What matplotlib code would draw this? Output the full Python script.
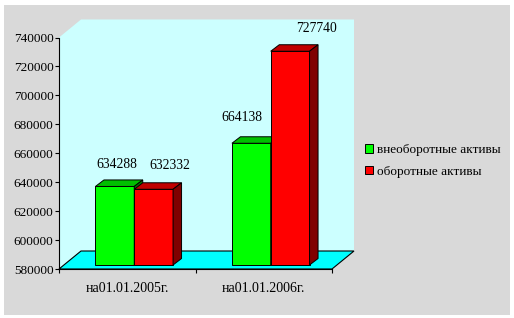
import matplotlib
matplotlib.use('Agg')
import matplotlib.pyplot as plt
from matplotlib.patches import Polygon, Rectangle, Patch

plt.rcParams['font.family'] = ['Liberation Serif', 'DejaVu Serif']
plt.rcParams['font.size'] = 9.5

categories = ['на01.01.2005г.', 'на01.01.2006г.']
series_names = ['внеоборотные активы', 'оборотные активы']
vneoborot = [634288, 664138]
oborot = [632332, 727740]
y_ticks = list(range(580000, 740001, 20000))

# colours: front, top, side
green = ('#00ff00', '#00c000', '#008000')
red = ('#ff0000', '#c00000', '#800000')

W, H = 514, 318
fig = plt.figure(figsize=(W / 100, H / 100), dpi=100)
fig.patches.append(Rectangle((4 / W, 3 / H), 506 / W, 310 / H, transform=fig.transFigure,
                             facecolor='#d9d9d9', edgecolor='none', zorder=-5))

ax = fig.add_axes([59 / W, (H - 269) / H, 273 / W, 231.5 / H])
ymin, ymax = y_ticks[0], y_ticks[-1]
ax.set_xlim(0, len(categories))
ax.set_ylim(ymin, ymax)
ax.patch.set_visible(False)

# pixel -> data units
px_x = len(categories) / 273
px_y = (ymax - ymin) / 231.5

# back wall + floor
wx, wy = 22 * px_x, 18 * px_y
xr = len(categories)
ax.add_patch(Polygon([(0, ymin), (0, ymax), (wx, ymax + wy), (xr + wx, ymax + wy), (xr + wx, ymin + wy)],
                     closed=True, facecolor='#ccffff', edgecolor='none', clip_on=False, zorder=1))
ax.add_patch(Polygon([(0, ymin), (wx, ymin + wy), (xr + wx, ymin + wy), (xr, ymin)],
                     closed=True, facecolor='#00ffff', edgecolor='black', lw=0.8, clip_on=False, zorder=2))

# bars
bw = 38.8 * px_x
fx, fy = 7 * px_x, 4 * px_y         # front face shift
dx, dy = 8.5 * px_x, 6.5 * px_y     # bar depth
label_offsets_px = [[(2, 22), (16, 24)], [(-9, 26), (26, 23)]]

for i, cat in enumerate(categories):
    c = i + 0.5
    for j, (vals, cols) in enumerate([(vneoborot, green), (oborot, red)]):
        v = vals[i]
        left = c - bw + j * bw + fx
        bottom = ymin + fy
        top = v + fy
        z = 3 + i * 2 + j
        ax.bar(left, v - ymin, width=bw, bottom=bottom, align='edge', color=cols[0],
               edgecolor='black', lw=0.7, clip_on=False, zorder=z)
        ax.add_patch(Polygon([(left, top), (left + dx, top + dy), (left + bw + dx, top + dy), (left + bw, top)],
                             closed=True, facecolor=cols[1], edgecolor='black', lw=0.7, clip_on=False, zorder=z))
        ax.add_patch(Polygon([(left + bw, bottom), (left + bw, top), (left + bw + dx, top + dy), (left + bw + dx, bottom + dy)],
                             closed=True, facecolor=cols[2], edgecolor='black', lw=0.7, clip_on=False, zorder=z))
        ox, oy = label_offsets_px[i][j]
        ax.annotate(str(v), xy=(left + bw / 2, top), xytext=(ox * 0.72, oy * 0.72),
                    textcoords='offset points', ha='center', va='center', fontsize=9.8, zorder=10)

# axes
for s in ['top', 'right']:
    ax.spines[s].set_visible(False)
for s in ['left', 'bottom']:
    ax.spines[s].set_linewidth(0.8)
    ax.spines[s].set_zorder(2.5)
ax.set_yticks(y_ticks, [str(t) for t in y_ticks])
ax.tick_params(axis='y', direction='out', length=3, width=0.8, pad=1)
ax.set_xticks([i + 0.5 for i in range(len(categories))], categories, fontsize=10)
ax.set_xticks(range(len(categories) + 1), minor=True)
ax.tick_params(axis='x', which='major', length=0, pad=9.5)
ax.tick_params(axis='x', which='minor', direction='out', length=3, width=0.8)

handles = [Patch(facecolor=green[0], edgecolor='black', lw=0.7),
           Patch(facecolor=red[0], edgecolor='black', lw=0.7)]
fig.legend(handles, series_names, loc='center left', bbox_to_anchor=(365 / W, (H - 161) / H),
           frameon=False, handlelength=0.6, handleheight=0.6, handletextpad=0.3, labelspacing=0.75,
           borderpad=0, borderaxespad=0)

fig.savefig('out.png', dpi=100)
